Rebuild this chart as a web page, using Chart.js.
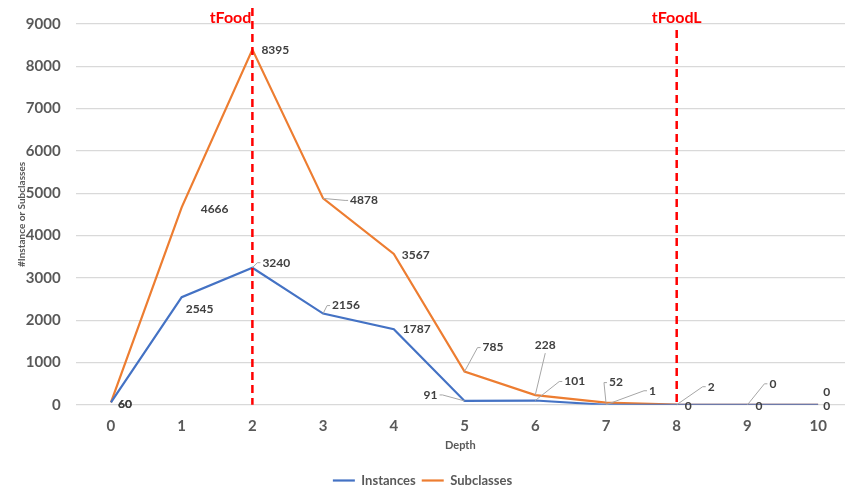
<!DOCTYPE html>
<html>
<head>
<meta charset="utf-8">
<script src="https://cdn.jsdelivr.net/npm/chart.js@4/dist/chart.umd.min.js"></script>
<style>
  html, body { margin: 0; padding: 0; background: #fff; }
  #wrap { width: 845px; height: 490px; position: relative; }
</style>
</head>
<body>
<div id="wrap"><canvas id="c" width="845" height="490"></canvas></div>
<script>
// Depth levels and the counts found at each level
const depths = [0, 1, 2, 3, 4, 5, 6, 7, 8, 9, 10];
const instances = [60, 2545, 3240, 2156, 1787, 91, 101, 1, 0, 0, 0];
const subclasses = [60, 4666, 8395, 4878, 3567, 785, 228, 52, 2, 0, 0];
const yTicks = [0, 1000, 2000, 3000, 4000, 5000, 6000, 7000, 8000, 9000];

// Reference depths marked with dashed lines
const markerDepths = [2, 8];
const markerNames = ['tFood', 'tFoodL'];

// Label placement per point: [dx, dy, align, leader]
const instLabelPos = [
  [7, 2, 'left', false], [4, 12, 'left', false], [10, -5, 'left', true],
  [9, -8, 'left', true], [9, 0, 'left', false], [-27, -6, 'right', true],
  [29, -19, 'left', true], [43, -14, 'left', true], [8, 1, 'left', false],
  [8, 1, 'left', false], [5, 1, 'left', false]
];
const subLabelPos = [
  [7, 2, 'left', false], [19, 2, 'left', false], [9, 1, 'left', false],
  [27, 2, 'left', true], [8, 1, 'left', false], [18, -24, 'left', true],
  [10, -50, 'center', true], [3, -20, 'left', true], [31, -18, 'left', true],
  [22, -21, 'left', true], [5, -13, 'left', false]
];

const FONT = 'Lato, "Open Sans", sans-serif';
const BLUE = '#4472C4';
const ORANGE = '#ED7D31';

const pointLabels = {
  id: 'pointLabels',
  afterDatasetsDraw(chart) {
    const ctx = chart.ctx;
    const layouts = [instLabelPos, subLabelPos];
    ctx.save();
    ctx.font = 'bold 12px ' + FONT;
    ctx.textBaseline = 'middle';
    chart.data.datasets.forEach((ds, di) => {
      const meta = chart.getDatasetMeta(di);
      meta.data.forEach((pt, i) => {
        const [dx, dy, align, leader] = layouts[di][i];
        const lx = pt.x + dx, ly = pt.y + dy;
        if (leader) {
          ctx.strokeStyle = '#a6a6a6';
          ctx.lineWidth = 1;
          ctx.beginPath();
          ctx.moveTo(pt.x, pt.y);
          if (align === 'left') {
            ctx.lineTo(lx - 5, ly);
            ctx.lineTo(lx - 2, ly);
          } else if (align === 'right') {
            ctx.lineTo(lx + 5, ly);
            ctx.lineTo(lx + 2, ly);
          } else {
            ctx.lineTo(lx, ly + 8);
          }
          ctx.stroke();
        }
        ctx.fillStyle = '#404040';
        ctx.textAlign = align;
        ctx.fillText(String(ds.data[i].y), lx, ly);
      });
    });
    ctx.restore();
  }
};

const markers = {
  id: 'markers',
  afterDatasetsDraw(chart) {
    const ctx = chart.ctx;
    const xs = chart.scales.x, area = chart.chartArea;
    ctx.save();
    markerDepths.forEach((d, k) => {
      const x = xs.getPixelForValue(d);
      const top = k === 0 ? 8 : 30;
      ctx.strokeStyle = '#FF0000';
      ctx.lineWidth = 2.5;
      ctx.setLineDash([8, 5]);
      ctx.beginPath();
      ctx.moveTo(x, top);
      ctx.lineTo(x, area.bottom);
      ctx.stroke();
      ctx.setLineDash([]);
      ctx.fillStyle = '#FF0000';
      ctx.font = 'bold 16px ' + FONT;
      ctx.textBaseline = 'middle';
      ctx.textAlign = k === 0 ? 'right' : 'center';
      ctx.fillText(markerNames[k], k === 0 ? x - 1 : x, 18);
    });
    ctx.restore();
  }
};

new Chart(document.getElementById('c'), {
  type: 'line',
  data: {
    datasets: [
      {
        label: 'Instances',
        data: depths.map((d, i) => ({ x: d, y: instances[i] })),
        borderColor: BLUE, backgroundColor: BLUE,
        borderWidth: 2.2, pointRadius: 0, tension: 0
      },
      {
        label: 'Subclasses',
        data: depths.map((d, i) => ({ x: d, y: subclasses[i] })),
        borderColor: ORANGE, backgroundColor: ORANGE,
        borderWidth: 2.2, pointRadius: 0, tension: 0
      }
    ]
  },
  options: {
    responsive: false,
    animation: false,
    devicePixelRatio: 1,
    layout: { padding: { top: 22, right: 0, left: 0, bottom: -7 } },
    scales: {
      x: {
        type: 'linear',
        min: -0.5, max: 10.38,
        afterBuildTicks(s) { s.ticks = depths.map(v => ({ value: v })); },
        grid: { display: false, drawTicks: false },
        border: { display: false },
        ticks: {
          color: '#595959', padding: 12,
          callback: v => String(v),
          font: { family: FONT, size: 15, weight: 'bold' }
        },
        title: {
          display: true, text: 'Depth', color: '#595959',
          font: { family: FONT, size: 11, weight: 'bold' },
          padding: { top: -8, bottom: 16 }
        }
      },
      y: {
        min: 0, max: 9000,
        afterBuildTicks(s) { s.ticks = yTicks.map(v => ({ value: v })); },
        afterFit(s) { s.width = 75.6; },
        grid: { color: '#d9d9d9', lineWidth: 1.3, drawTicks: false },
        border: { display: false },
        ticks: {
          color: '#595959', padding: 15,
          callback: v => String(v),
          font: { family: FONT, size: 15, weight: 'bold' }
        },
        title: {
          display: true, text: '#Instance or Subclasses', color: '#595959',
          font: { family: FONT, size: 10, weight: 'bold' },
          padding: { top: 16, bottom: 0 }
        }
      }
    },
    plugins: {
      legend: {
        position: 'bottom',
        labels: {
          usePointStyle: true, pointStyle: 'line', pointStyleWidth: 22,
          color: '#595959', padding: 6,
          font: { family: FONT, size: 13, weight: 'bold' }
        }
      },
      tooltip: { enabled: false }
    }
  },
  plugins: [markers, pointLabels]
});
</script>
</body>
</html>
